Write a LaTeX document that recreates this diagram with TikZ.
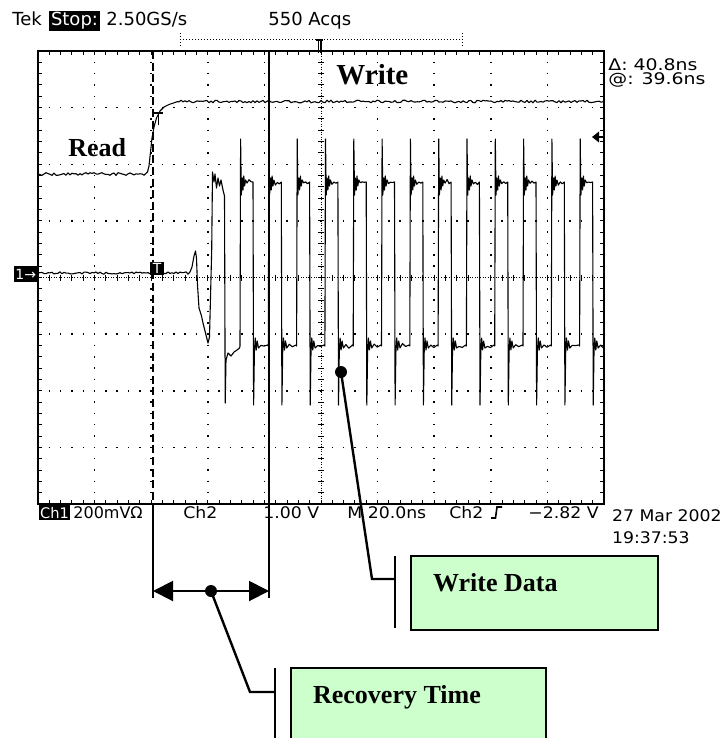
\documentclass[tikz,border=0pt]{standalone}
\usepackage{fontspec}
\setmainfont{Liberation Serif}
\newfontfamily\scopefont{DejaVu Sans}
\newfontfamily\scopewide[FakeStretch=1.08]{DejaVu Sans}
\newfontfamily\scopexwide[FakeStretch=1.18]{DejaVu Sans}
\usetikzlibrary{arrows.meta,positioning}
\definecolor{callgreen}{RGB}{204,255,204}

\begin{document}
\begin{tikzpicture}[x=0.5pt,y=-0.5pt,
    trace/.style={line width=0.55pt, line join=round},
    gratframe/.style={line width=0.75pt},
    gridv/.style={line width=0.75pt, dash pattern=on 0.75pt off 4.9125pt, dash phase=0.375pt},
    gridh/.style={line width=0.75pt, dash pattern=on 0.75pt off 4.91pt, dash phase=0.375pt},
    centreline/.style={line width=0.5pt, dash pattern=on 0.5pt off 0.8pt},
    gratick/.style={line width=0.5pt},
    scopetext/.style={font=\scopefont\fontsize{9}{10}\selectfont, anchor=base west, inner sep=0pt},
    readout/.style={font=\scopewide\fontsize{8}{9}\selectfont, anchor=base west, inner sep=0pt},
    sidetext/.style={font=\scopexwide\fontsize{8}{9}\selectfont, anchor=base west, inner sep=0pt},
    inverse/.style={fill=black, text=white, inner xsep=0.8pt, inner ysep=0.6pt},
    tracelabel/.style={font=\bfseries\fontsize{13}{15}\selectfont, anchor=base west, inner sep=0pt},
    notebox/.style={draw, line width=1pt, fill=callgreen, anchor=north west, inner sep=0pt},
    leader/.style={line width=1.2pt},
    postbar/.style={line width=1pt},
    blob/.style={circle, fill=black, inner sep=0pt, minimum size=6pt},
  ]
  \useasboundingbox (0,0) rectangle (727,738);
  \pgfmathsetseed{12}

  % header line
  \node[scopetext] (tek) at (12,26) {Tek};
  \node[scopetext, inverse] (stop) at (49,26) {Stop:};
  \node[scopetext] (rate) at (106,26) {2.50GS/s};
  \node[scopetext] (acqs) at (268,26) {550 Acqs};
  \draw[line width=0.5pt, densely dotted] (180,40) -- (462,40);
  \draw[line width=0.5pt, densely dotted] (180,33) -- (180,47) (462,33) -- (462,47);
  \draw[line width=0.6pt] (316,40) -- (323,40) (318.5,40) -- (318.5,53) (321,40) -- (321,53);

  % graticule
  \draw[gratframe] (38,51) rectangle (604,504);
  \foreach \i in {1,2,3,4,6,7,8,9}
    \draw[gridv] ({38+56.6*\i},51) -- ({38+56.6*\i},504);
  \foreach \j in {1,2,3,5,6,7}
    \draw[gridh] (38,{51+56.625*\j}) -- (604,{51+56.625*\j});
  \draw[centreline] (321,51) -- (321,504);
  \draw[centreline] (38,277.5) -- (604,277.5);
  \foreach \i in {1,...,49} {
    \draw[gratick] ({38+11.32*\i},51) -- ++(0,4);
    \draw[gratick] ({38+11.32*\i},504) -- ++(0,-4);
    \draw[gratick] ({38+11.32*\i},274.5) -- ++(0,6);
  }
  \foreach \j in {1,...,39} {
    \draw[gratick] (38,{51+11.325*\j}) -- ++(4,0);
    \draw[gratick] (604,{51+11.325*\j}) -- ++(-4,0);
    \draw[gratick] (318,{51+11.325*\j}) -- ++(6,0);
  }

  % channel 2: read/write gate
  \draw[trace] (38,174) \foreach \x in {40,42,...,146} { -- (\x,{174+1.4*rand}) }
    -- (147.5,172) -- (149,166) -- (150.5,152) -- (152,138) -- (154,127) -- (156.5,118)
    -- (160,111) -- (164,107) -- (169,104.5) -- (175,102.5)
    \foreach \x in {177,179,...,603} { -- (\x,{101.5+1.3*rand}) } -- (604,101);

  % channel 1: head signal
  \begin{scope}
    \clip (38,51) rectangle (604,504);
    \draw[trace] (38,273) \foreach \x in {40,42,...,188} { -- (\x,{273+1.2*rand}) }
      -- (190,272) -- (192,267) -- (194,256) -- (195.5,251) -- (196.5,258) -- (197.5,285)
      -- (199,308) -- (201.5,316) -- (203,323) -- (206,335) -- (208,343) -- (209.5,337)
      -- (211.7,250) -- (212.5,172) -- (214,182) -- (215,174) -- (216.5,188) -- (218,178)
      -- (219.5,186) -- (221,180) -- (223,190) -- (224.5,196) -- (225.2,403) -- (226,360)
      -- (228,353) -- (231,356) -- (234,352) -- (237,350) -- (239.5,348)
      \foreach \k [evaluate=\k as \xo using 211.7+28.3*\k] in {1,...,13} {
        -- (\xo,346) -- (\xo+0.6,139) -- (\xo+1.3,195) -- (\xo+2.2,178) -- (\xo+3,190)
        -- (\xo+3.8,176) -- (\xo+4.6,186) -- (\xo+5.6,180) -- ({\xo+7},{184+1.5*rand})
        -- ({\xo+9},{181+1.5*rand}) -- ({\xo+11},{183+1.5*rand}) -- (\xo+13,182)
        -- (\xo+13.6,405) -- (\xo+14.4,352) -- (\xo+15.2,338) -- (\xo+16.2,350)
        -- (\xo+17.2,341) -- (\xo+18.5,348) -- ({\xo+21},{345+1.5*rand})
        -- ({\xo+24},{347+1.5*rand}) -- (\xo+27.6,345)
      };
  \end{scope}

  % cursors
  \draw[line width=0.8pt, dash pattern=on 4pt off 1.8pt] (153,51) -- (153,504);
  \draw[line width=0.75pt] (269,51) -- (269,504);

  % markers
  \node[inverse, font=\scopefont\fontsize{7}{8}\selectfont, anchor=east, inner ysep=1.6pt] (chmark) at (38,274) {1→};
  \node[inverse, font=\scopefont\fontsize{7}{8}\selectfont, anchor=north west, inner xsep=1.2pt] (trigmark) at (150,262) {T};
  \draw[line width=0.6pt] (154,113) -- (163,113) (158.5,113) -- (158.5,125);
  \fill (592,137) -- (599,131.5) -- (599,142.5) -- cycle;
  \draw[line width=0.6pt] (599,137) -- (604,137);

  % trace names
  \node[tracelabel] (readlabel) at (68,156.7) {Read};
  \node[tracelabel, font=\bfseries\fontsize{14.5}{16}\selectfont] (writelabel) at (336,85) {Write};

  % readout
  \node[readout, inverse, font=\scopefont\fontsize{7.3}{8}\selectfont, inner xsep=0.4pt, inner ysep=1pt] (chone) at (39,518) {Ch1};
  \node[readout, font=\scopefont\fontsize{8}{9}\selectfont] (voltsone) at (73,518) {200mVΩ};
  \node[readout] (chtwo) at (183,518) {Ch2};
  \node[readout] (voltstwo) at (263,518) {1.00 V};
  \node[readout] (timebase) at (347,518) {M 20.0ns};
  \node[readout] (trigsrc) at (449,518) {Ch2};
  \draw[line width=0.8pt] (491,518) -- (495.5,518) -- (497,507) -- (502,507);
  \node[readout] (triglevel) at (528,518) {−2.82 V};
  \node[sidetext] (delta) at (608,71) {Δ: 40.8ns};
  \node[sidetext] (at) at (608,84.5) {@: 39.6ns};
  \node[readout] (date) at (611.7,521.7) {27 Mar 2002};
  \node[readout] (clock) at (611.7,543) {19:37:53};

  % recovery time dimension
  \coordinate (tstart) at (153,591);
  \coordinate (tend) at (269,591);
  \draw[line width=0.6pt] (153,504) -- (153,598) (269,504) -- (269,598);
  \draw[line width=1pt, {Triangle[length=10pt,width=10pt]}-{Triangle[length=10pt,width=10pt]}] (tstart) -- (tend);
  \node[blob] (rdot) at (211,591) {};
  \node[blob] (wdot) at (341,372) {};

  % callouts
  \node[notebox, minimum width=123.5pt, minimum height=37pt] (wbox) at (410,555) {};
  \node[notebox, minimum width=127.5pt, minimum height=40pt] (rbox) at (290,667) {};
  \node[tracelabel] (wdlabel) at (432.7,591.7) {Write Data};
  \node[tracelabel] (rtlabel) at (312.7,703.3) {Recovery Time};
  \draw[postbar] (395,556) -- (395,628);
  \draw[postbar] (275,668) -- (275,740);
  \coordinate (wknee) at (372,579);
  \coordinate (wpost) at (395,579);
  \coordinate (rknee) at (250,692);
  \coordinate (rpost) at (275,692);
  \draw[leader] (wdot.center) -- (wknee) -- (wpost);
  \draw[leader] (rdot.center) -- (rknee) -- (rpost);
\end{tikzpicture}
\end{document}
